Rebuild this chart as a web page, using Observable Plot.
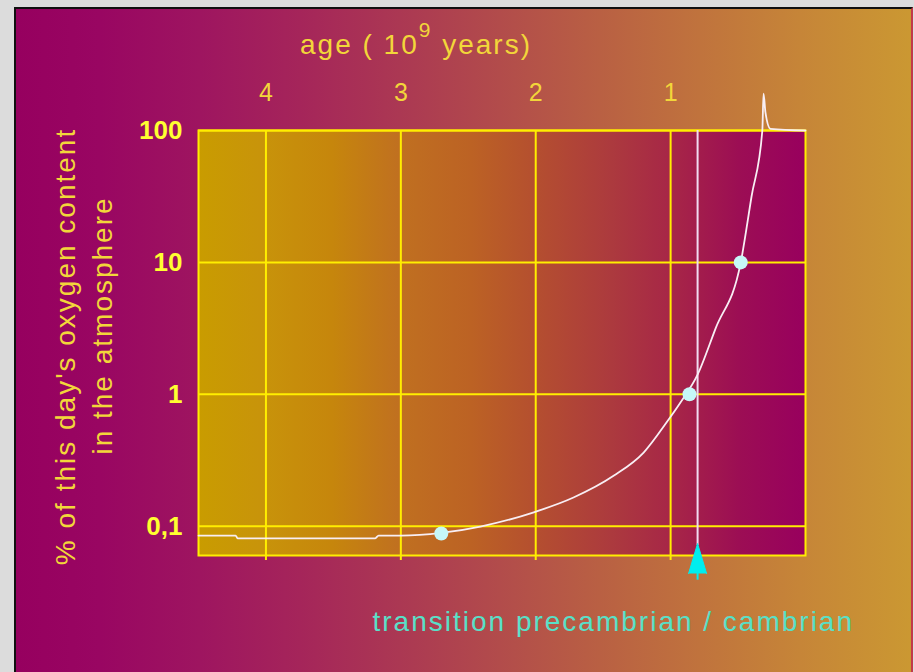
<!DOCTYPE html>
<html>
<head>
<meta charset="utf-8">
<script src="https://cdn.jsdelivr.net/npm/d3@7"></script>
<script src="https://cdn.jsdelivr.net/npm/@observablehq/plot@0.6"></script>
<style>
  html, body { margin: 0; padding: 0; background: #dcdcdc; overflow: hidden; }
  #wrap { position: relative; width: 914px; height: 672px; background: #dcdcdc; overflow: hidden; }
  #panel {
    position: absolute; left: 14px; top: 7px; width: 895px; height: 670px;
    border-left: 2px solid #101010; border-top: 2px solid #101010; border-right: 2px solid #c23a4a;
    background: linear-gradient(to right,
      #96005f 0px, #990662 84px, #9e1560 184px, #a5255a 284px, #ab3853 384px,
      #b24c4b 484px, #b96043 584px, #c0733d 684px, #c68538 784px, #cb9832 895px);
  }
  #chart { position: absolute; left: 0; top: 0; }
</style>
</head>
<body>
<div id="wrap"><div id="panel"></div><div id="chart"></div></div>
<script>
// ---- data (age in 10^9 years, O2 in % of present-day level) ----
const xTicks = [4, 3, 2, 1];
const yTicks = [0.1, 1, 10, 100];
const yTickLabels = ["0,1", "1", "10", "100"];

const curveAge = [4.50, 4.225, 4.21, 3.19, 3.165, 3.00, 2.70, 2.41, 2.02, 1.72, 1.42, 1.20, 1.02, 0.927, 0.80, 0.667, 0.48, 0.40, 0.32, 0.311, 0.297, 0.26, 0.0];
const curveO2  = [0.085, 0.085, 0.081, 0.081, 0.085, 0.085, 0.089, 0.0995, 0.127, 0.165, 0.242, 0.362, 0.633, 0.867, 1.41, 3.15, 10, 31.6, 100, 190, 137, 103, 100];

const pointAge = [2.70, 0.86, 0.48];
const pointO2  = [0.088, 1.0, 10];

const cambrianAge = [0.80];

const titleMain = "age ( 10";
const titleSup = "9";
const titleEnd = " years)";
const yLabel1 = ["% of this day's oxygen content"];
const yLabel2 = ["in the atmosphere"];
const transitionText = ["transition precambrian / cambrian"];

// ---- tables built from the arrays ----
const curve = curveAge.map((a, i) => ({age: a, o2: curveO2[i]}));
const points = pointAge.map((a, i) => ({age: a, o2: pointO2[i]}));
const cambrian = cambrianAge.map(a => ({age: a}));

const YELLOW = "#ffee00";
const LABEL = "#f2d63a";
const FONT = "'Liberation Sans', Arial, sans-serif";

const chart = Plot.plot({
  width: 914,
  height: 672,
  marginLeft: 198,
  marginRight: 109,
  marginTop: 130,
  marginBottom: 117,
  style: {background: "transparent", fontFamily: FONT, overflow: "visible"},
  x: {domain: [4.5, 0]},
  y: {type: "log", domain: [0.06, 100]},
  marks: [
    Plot.frame({fill: "url(#innerGrad)", stroke: "none"}),
    Plot.ruleX(xTicks, {stroke: YELLOW, strokeWidth: 2}),
    Plot.ruleY(yTicks, {stroke: YELLOW, strokeWidth: 2}),
    Plot.frame({stroke: YELLOW, strokeWidth: 2}),
    Plot.axisX({anchor: "bottom", ticks: xTicks, tickSize: 5, tickFormat: () => "", stroke: YELLOW, strokeWidth: 2, label: null}),
    Plot.axisX({anchor: "top", ticks: xTicks, tickSize: 0, tickPadding: 30, fontSize: 25, fill: LABEL, label: null, tickFormat: d => String(d)}),
    Plot.axisY({anchor: "left", ticks: yTicks, tickSize: 0, tickPadding: 16,
      tickFormat: d => yTickLabels[yTicks.indexOf(d)],
      fontSize: 26, fontWeight: "bold",
      fontFamily: "'Liberation Sans Narrow', 'Arial Narrow', 'Liberation Sans', sans-serif",
      fill: "#ffff30", label: null}),
    Plot.ruleX(cambrian, {x: "age", y1: 100, y2: 0.0714, stroke: "#f0dcf0", strokeWidth: 2}),
    Plot.ruleX(cambrian, {x: "age", y1: 0.0438, y2: 0.039, stroke: "#00eeee", strokeWidth: 2}),
    Plot.vector(cambrian, {x: "age", y: 0.0438, length: 30, r: 9, shape: "spike", anchor: "start", rotate: 0, fill: "#00eeee", stroke: "#00eeee", strokeWidth: 1}),
    Plot.line(curve, {x: "age", y: "o2", stroke: "#f8eef4", strokeWidth: 1.8, curve: "monotone-x"}),
    Plot.dot(points, {x: "age", y: "o2", r: 7, fill: "#c6f8f8", stroke: null}),
    Plot.text([titleMain + titleSup + titleEnd], {text: d => d, frameAnchor: "top", dx: -86, dy: -77, textAnchor: "middle", lineAnchor: "bottom", fontSize: 28, fill: LABEL}),
    Plot.text(yLabel1, {text: d => d, frameAnchor: "left", rotate: -90, dx: -132, dy: 3.5, textAnchor: "middle", lineAnchor: "middle", fontSize: 28, fill: LABEL}),
    Plot.text(yLabel2, {text: d => d, frameAnchor: "left", rotate: -90, dx: -95, dy: -17.5, textAnchor: "middle", lineAnchor: "middle", fontSize: 28, fill: LABEL}),
    Plot.text(transitionText, {text: d => d, frameAnchor: "bottom-left", dx: 174, dy: 75, textAnchor: "start", lineAnchor: "bottom", fontSize: 28, fill: "#58e0c8"})
  ]
});

// gradient for the plotting area
const ns = "http://www.w3.org/2000/svg";
const defs = document.createElementNS(ns, "defs");
defs.innerHTML = `<linearGradient id="innerGrad" x1="0" x2="1" y1="0" y2="0">
  <stop offset="0" stop-color="#c99c00"/>
  <stop offset="0.10" stop-color="#c8940a"/>
  <stop offset="0.22" stop-color="#c6860c"/>
  <stop offset="0.33" stop-color="#c07020"/>
  <stop offset="0.45" stop-color="#bc6224"/>
  <stop offset="0.56" stop-color="#b44e30"/>
  <stop offset="0.68" stop-color="#ac3a3e"/>
  <stop offset="0.79" stop-color="#a62448"/>
  <stop offset="0.89" stop-color="#9c0e54"/>
  <stop offset="1" stop-color="#98005e"/>
</linearGradient>`;
chart.insertBefore(defs, chart.firstChild);

// wider tracking on the annotation texts; superscript in the title
chart.querySelectorAll('g[aria-label="text"] text').forEach(t => {
  t.setAttribute("letter-spacing", "2px");
  if (t.textContent === titleMain + titleSup + titleEnd) {
    t.textContent = "";
    const a = document.createElementNS(ns, "tspan"); a.textContent = titleMain;
    const b = document.createElementNS(ns, "tspan"); b.textContent = titleSup;
    b.setAttribute("dy", "-17"); b.setAttribute("font-size", "21");
    const c = document.createElementNS(ns, "tspan"); c.textContent = titleEnd;
    c.setAttribute("dy", "17");
    t.append(a, b, c);
  }
});

document.getElementById("chart").appendChild(chart);
</script>
</body>
</html>
